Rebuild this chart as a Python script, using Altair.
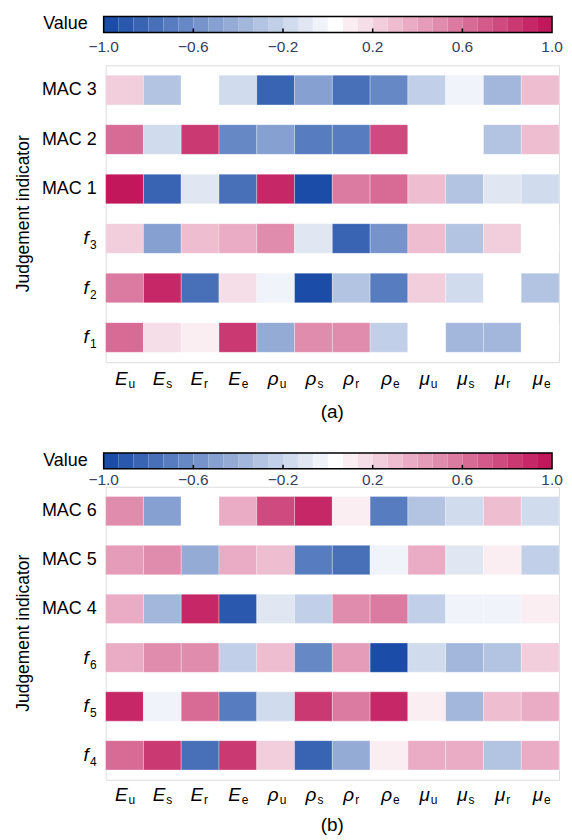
import altair as alt
import pandas as pd

FONT = "Liberation Sans"

# ---------------- data ----------------
col_main = ["E", "E", "E", "E", "ρ", "ρ", "ρ", "ρ", "μ", "μ", "μ", "μ"]
col_sub = ["u", "s", "r", "e", "u", "s", "r", "e", "u", "s", "r", "e"]

rows_a_main = ["MAC 3", "MAC 2", "MAC 1", "f", "f", "f"]
rows_a_sub = ["", "", "", "3", "2", "1"]
rows_b_main = ["MAC 6", "MAC 5", "MAC 4", "f", "f", "f"]
rows_b_sub = ["", "", "", "6", "5", "4"]

values_a = [
    [0.23, -0.30, 0.03, -0.17, -0.83, -0.50, -0.77, -0.63, -0.23, -0.03, -0.37, 0.30],
    [0.63, -0.17, 0.83, -0.63, -0.50, -0.70, -0.70, 0.77, 0.03, 0.03, -0.30, 0.30],
    [0.97, -0.83, -0.10, -0.77, 0.90, -0.97, 0.57, 0.63, 0.30, -0.30, -0.10, -0.17],
    [0.23, -0.50, 0.30, 0.37, 0.50, -0.10, -0.83, -0.57, 0.30, -0.30, 0.23, 0.03],
    [0.57, 0.90, -0.77, 0.17, -0.03, -0.97, -0.30, -0.70, 0.23, -0.17, 0.03, -0.30],
    [0.63, 0.17, 0.10, 0.83, -0.43, 0.50, 0.50, -0.23, 0.03, -0.37, -0.37, 0.03],
]
values_b = [
    [0.50, -0.50, 0.03, 0.37, 0.77, 0.90, 0.10, -0.70, -0.30, -0.17, 0.30, -0.17],
    [0.43, 0.50, -0.43, 0.37, 0.30, -0.70, -0.77, -0.03, 0.37, -0.10, 0.10, -0.23],
    [0.37, -0.37, 0.90, -0.90, -0.10, -0.23, 0.50, 0.57, -0.23, -0.03, -0.03, 0.10],
    [0.37, 0.50, 0.50, -0.23, 0.30, -0.63, 0.43, -0.97, -0.17, -0.37, -0.30, 0.23],
    [0.90, -0.03, 0.63, -0.70, -0.17, 0.83, 0.57, 0.90, 0.10, -0.37, 0.30, 0.37],
    [0.63, 0.83, -0.77, 0.83, 0.23, -0.83, -0.43, 0.10, 0.37, 0.37, -0.30, 0.37],
]

legend_ticks = [-1.0, -0.6, -0.2, 0.2, 0.6, 1.0]
legend_tick_labels = ["−1.0", "−0.6", "−0.2", "0.2", "0.6", "1.0"]
N_BINS = 30

# ---------------- colour ramp (discrete, 30 levels) ----------------
BLUE = (26, 76, 168)
RED = (194, 24, 91)


def mix(c, t):
    return "#%02x%02x%02x" % tuple(round(255 + (ci - 255) * t) for ci in c)


colors = [mix(BLUE, (15 - i) / 15) for i in range(15)] + ["#ffffff"] + \
         [mix(RED, k / 14) for k in range(1, 15)]
cscale = alt.Scale(type="quantize", domain=[-1, 1], range=colors, nice=False, zero=False)

col_keys = [m + "_" + s for m, s in zip(col_main, col_sub)]
W = 455

step = 2 / N_BINS
bins = pd.DataFrame({
    "lo": [-1 + i * step for i in range(N_BINS)],
    "hi": [-1 + (i + 1) * step for i in range(N_BINS)],
    "mid": [-1 + (i + 0.5) * step for i in range(N_BINS)],
})
ticks_df = pd.DataFrame({"v": legend_ticks, "lab": legend_tick_labels})


def tick_axis():
    return alt.Axis(title=None, labels=False, domain=False, ticks=True, tickSize=6,
                    tickWidth=1.5, tickColor="black", offset=-6, grid=False, zindex=1)


def panel(rows_main, rows_sub, values, H, cfg, caption):
    row_keys = [m + s for m, s in zip(rows_main, rows_sub)]
    recs = []
    for rk, vals in zip(row_keys, values):
        for ck, v in zip(col_keys, vals):
            recs.append({"row": rk, "col": ck, "value": v})
    df = pd.DataFrame(recs)
    xs = alt.Scale(domain=col_keys, paddingInner=0, paddingOuter=0)
    ys = alt.Scale(domain=row_keys, paddingInner=0.4, paddingOuter=0.2)

    cells = alt.Chart(df).mark_rect(stroke="white", strokeWidth=0.6, strokeOpacity=0.5).encode(
        x=alt.X("col:N", scale=xs, axis=tick_axis()),
        y=alt.Y("row:N", scale=ys, axis=tick_axis()),
        color=alt.Color("value:Q", scale=cscale, legend=None),
    )

    dfc = pd.DataFrame({"col": col_keys, "main": col_main, "sub": col_sub})
    xl_main = alt.Chart(dfc).mark_text(font=FONT, fontSize=19, fontStyle="italic", align="right",
                                       baseline="alphabetic", dx=3, color="black").encode(
        x=alt.X("col:N", scale=xs, axis=None), y=alt.value(H + cfg["xlab"]), text="main:N")
    xl_sub = alt.Chart(dfc).mark_text(font=FONT, fontSize=12, align="left",
                                      baseline="alphabetic", dx=4, color="black").encode(
        x=alt.X("col:N", scale=xs, axis=None), y=alt.value(H + cfg["xlab"] + 3), text="sub:N")

    dfr = pd.DataFrame({"row": row_keys, "main": rows_main, "sub": rows_sub})
    yl_mac = alt.Chart(dfr).transform_filter("datum.sub == ''").mark_text(
        font=FONT, fontSize=18, align="right", baseline="middle", color="black").encode(
        y=alt.Y("row:N", scale=ys, axis=None), x=alt.value(-9), text="main:N")
    yl_f = alt.Chart(dfr).transform_filter("datum.sub != ''").mark_text(
        font=FONT, fontSize=19, fontStyle="italic", align="right", baseline="alphabetic",
        dy=6, color="black").encode(
        y=alt.Y("row:N", scale=ys, axis=None), x=alt.value(-17), text="main:N")
    yl_fs = alt.Chart(dfr).transform_filter("datum.sub != ''").mark_text(
        font=FONT, fontSize=12, align="right", baseline="alphabetic", dy=11,
        color="black").encode(
        y=alt.Y("row:N", scale=ys, axis=None), x=alt.value(-9), text="sub:N")

    ytitle = alt.Chart(pd.DataFrame({"t": ["Judgement indicator"]})).mark_text(
        font=FONT, fontSize=17.5, angle=270, baseline="middle", align="center",
        color="black").encode(x=alt.value(-82), y=alt.value(H / 2), text="t:N")
    cap = alt.Chart(pd.DataFrame({"t": [caption]})).mark_text(
        font=FONT, fontSize=19, baseline="middle", align="center", color="black").encode(
        x=alt.value(W / 2), y=alt.value(H + cfg["cap"]), text="t:N")

    heat = alt.layer(cells, xl_main, xl_sub, yl_mac, yl_f, yl_fs, ytitle, cap)

    # colour bar
    ls = alt.Scale(domain=[-1, 1], range=[-2, 448], nice=False, zero=False)
    bt = cfg["bar_top"]
    bb = bt + 16
    bar = alt.Chart(bins).mark_rect().encode(
        x=alt.X("lo:Q", scale=ls, axis=None), x2="hi:Q",
        y=alt.value(bt), y2=alt.value(bb),
        color=alt.Color("mid:Q", scale=cscale, legend=None))
    border = alt.Chart(bins).mark_rect(fillOpacity=0, stroke="black", strokeWidth=1.5).encode(
        x=alt.X("min(lo):Q", scale=ls, axis=None), x2="max(hi):Q",
        y=alt.value(bt), y2=alt.value(bb))
    lticks = alt.Chart(ticks_df).transform_filter("abs(datum.v) < 0.99").mark_rule(
        color="black", strokeWidth=1.5).encode(
        x=alt.X("v:Q", scale=ls, axis=None), y=alt.value(bb - 4), y2=alt.value(bb))
    llabels = alt.Chart(ticks_df).mark_text(font=FONT, fontSize=15.5, color="#34405c",
                                            baseline="middle", align="center").encode(
        x=alt.X("v:Q", scale=ls, axis=None), y=alt.value(cfg["lab"]), text="lab:N")
    vtitle = alt.Chart(pd.DataFrame({"t": ["Value"]})).mark_text(
        font=FONT, fontSize=18, align="right", baseline="middle", color="black").encode(
        x=alt.value(-18), y=alt.value((bt + bb) / 2), text="t:N")
    legend = alt.layer(bar, border, lticks, llabels, vtitle)

    return alt.layer(heat, legend).resolve_scale(x="independent").properties(width=W, height=H)


cfg_a = {"xlab": 23, "cap": 50, "bar_top": -49, "lab": -18}
cfg_b = {"xlab": 21, "cap": 45, "bar_top": -34, "lab": -7}

pa = panel(rows_a_main, rows_a_sub, values_a, 298, cfg_a, "(a)")
pb = panel(rows_b_main, rows_b_sub, values_b, 294, cfg_b, "(b)")

chart = alt.vconcat(pa, pb, spacing=28).properties(
    padding={"left": 6, "top": 5, "right": 0, "bottom": 0}
).configure_view(stroke="black", strokeWidth=1.8).configure(font=FONT)

chart.save("out.html", embed_options={"renderer": "svg", "actions": False})
